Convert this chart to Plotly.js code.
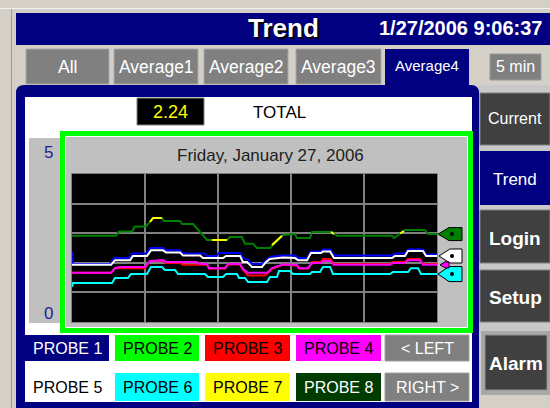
<!DOCTYPE html>
<html>
<head>
<meta charset="utf-8">
<script src="https://cdn.plot.ly/plotly-3.0.1.min.js"></script>
<style>
  html, body { margin: 0; padding: 0; background: #d4d0c8; }
  #chart { width: 550px; height: 408px; }
</style>
</head>
<body>
<div id="chart"></div>
<script>
// ---------------- data (time in seconds over the 5 min window, value 0..5) ----------------
const probeNames = ["PROBE 1","PROBE 2","PROBE 3","PROBE 4","PROBE 5","PROBE 6","PROBE 7","PROBE 8"];
const probeColors = ["#0000ff","#00ff00","#ff0000","#ff00ff","#ffffff","#00ffff","#ffff00","#008000"];

const probe1_t = [0,0.8,31.2,34.5,46.8,49.3,60.8,64.1,74.8,77.3,88.8,91.2,109.3,111.0,118.4,120.8,138.1,140.5,144.7,147.9,156.2,159.5,162.7,173.4,183.3,185.8,193.2,196.4,204.7,206.3,212.1,215.3,263.0,265.5,273.7,276.2,288.5,291.0,300];
const probe1_v = [2.36,1.96,1.96,2.16,2.16,2.31,2.31,2.50,2.50,2.42,2.42,2.31,2.31,2.23,2.23,2.33,2.33,2.16,2.09,1.96,1.96,2.09,2.20,2.25,2.25,2.16,2.16,2.38,2.38,2.45,2.45,2.25,2.25,2.31,2.31,2.45,2.45,2.28,2.28];

const probe3_t = [0,32.1,35.3,60.0,64.1,74.8,77.3,88.8,91.2,111.0,112.6,125.8,128.2,138.1,140.5,144.7,158.6,164.4,173.4,184.9,186.6,194.0,197.3,204.7,206.3,212.1,215.3,261.4,263.8,273.7,276.2,286.0,288.5,300];
const probe3_v = [1.66,1.66,1.82,1.82,2.06,2.06,1.99,1.99,1.93,1.93,1.81,1.81,1.94,1.94,1.76,1.57,1.57,1.79,1.94,1.91,1.81,1.81,2.03,2.03,2.13,2.13,1.96,1.96,2.03,2.03,2.13,2.13,1.96,1.96];

const probe4_t = [0,32.1,35.3,39.5,60.0,64.1,74.8,77.3,102.7,105.2,111.0,112.6,125.8,128.2,138.1,140.5,144.7,160.3,164.4,173.4,184.9,186.6,194.0,197.3,204.7,206.3,212.1,215.3,261.4,263.8,273.7,276.2,286.0,288.5,300];
const probe4_v = [1.66,1.66,1.82,1.86,1.86,2.06,2.09,2.03,2.03,1.96,1.96,1.82,1.82,1.96,1.96,1.79,1.66,1.66,1.82,1.94,1.93,1.82,1.82,1.99,1.99,2.06,2.06,1.93,1.93,1.99,1.99,2.09,2.09,1.93,1.93];

const probe5_t = [0,32.1,35.3,47.7,50.1,61.6,64.9,74.8,77.3,88.8,91.2,105.2,107.7,124.1,126.6,138.1,140.5,143.8,147.9,156.2,159.5,162.7,173.4,183.3,185.8,193.2,196.4,204.7,206.3,212.1,215.3,263.0,265.5,273.7,276.2,288.5,291.0,300];
const probe5_v = [1.93,1.93,2.09,2.09,2.23,2.23,2.42,2.42,2.35,2.35,2.25,2.25,2.16,2.16,2.23,2.23,2.03,2.03,1.86,1.86,2.03,2.13,2.18,2.16,2.09,2.09,2.33,2.33,2.38,2.38,2.16,2.16,2.23,2.23,2.40,2.40,2.23,2.23];

const probe6_t = [0,0.8,32.9,35.3,46.0,48.5,61.6,64.9,74.0,76.4,84.7,87.1,109.3,111.8,124.1,126.6,135.6,137.3,142.2,144.7,160.3,162.7,168.5,170.1,179.2,181.6,195.6,197.3,203.8,206.3,212.1,214.5,261.4,263.8,276.2,278.6,284.4,286.8,300];
const probe6_v = [1.18,1.32,1.32,1.49,1.49,1.62,1.62,1.86,1.86,1.76,1.76,1.62,1.62,1.52,1.52,1.62,1.62,1.49,1.49,1.35,1.35,1.52,1.52,1.72,1.72,1.62,1.62,1.69,1.69,1.86,1.86,1.62,1.62,1.69,1.69,1.82,1.82,1.62,1.62];

// probe 7 mostly lies under probe 8; only the visible pieces are given (null = hidden)
const probe7_t = [64.1,66.6,74.0,74.5,115.0,127.4,128.0,164.4,172.6,173.0,212.9,215.3,216.0,269.6,272.9];
const probe7_v = [3.38,3.51,3.51,null,2.77,2.77,null,2.60,2.91,null,3.04,2.97,null,2.99,3.07];

const probe8_t = [0,36.2,38.6,49.3,51.8,60.8,64.1,66.6,74.0,75.6,88.8,90.4,99.5,107.7,111.0,127.4,129.9,139.7,142.2,148.8,152.1,162.7,173.4,183.3,184.9,195.6,197.3,213.7,217.8,263.0,264.7,273.7,290.1,292.6,300];
const probe8_v = [2.91,2.91,3.06,3.06,3.23,3.23,3.38,3.51,3.51,3.41,3.41,3.31,3.31,2.94,2.77,2.77,2.87,2.87,2.64,2.64,2.50,2.50,2.94,2.97,2.84,2.84,3.04,3.04,2.91,2.91,2.84,3.11,3.11,2.97,2.97];

const totalValue = "2.24";
const totalLabel = "TOTAL";
const dateTitle = "Friday, January 27, 2006";
const headerTitle = "Trend";
const headerTime = "1/27/2006 9:06:37";
const tabLabels = ["All","Average1","Average2","Average3","Average4"];
const spanLabel = "5 min";
const sideButtons = ["Current","Trend","Login","Setup","Alarm"];
const yTop = "5", yBottom = "0";

// ---------------- layout helpers (pixel -> paper) ----------------
const L = 72, T = 174, W = 365, H = 148, FW = 550, FH = 408;
const X = p => (p - L) / W;
const Y = p => (T + H - p) / H;
const PXU = H / 5; // px per value unit
const FONT = "Liberation Sans, Arial, sans-serif";

const shapes = [];
const ann = [];
function box(x0, y0, x1, y1, fill, line, lw, layer) {
  shapes.push({type: "rect", xref: "paper", yref: "paper",
    x0: X(x0), x1: X(x1), y0: Y(y1), y1: Y(y0),
    fillcolor: fill, line: {color: line || fill, width: lw || 0}, layer: layer || "below"});
}
function txt(s, cx, cy, size, color, bold, shadow) {
  const font = {family: FONT, size: size, color: color};
  if (shadow) font.shadow = shadow;
  ann.push({xref: "paper", yref: "paper", x: X(cx), y: Y(cy), text: bold ? "<b>" + s + "</b>" : s,
    showarrow: false, xanchor: "center", yanchor: "middle", font: font});
}

// outer frame lines
box(0, 8, 550, 9, "#f0f0f0");
box(11, 9, 12, 408, "#9a9a9a");
// header bar
box(16, 13, 550, 45, "#000080");
txt(headerTitle, 283, 28, 26, "#ffffff", true, "2px 2px 0px #000000");
txt(headerTime, 460, 28, 20, "#ffffff", true);

// tabs
const tabX = [[26,109],[114,198],[204,288],[296,381],[385,469]];
tabLabels.forEach((lab, i) => {
  const [a, b] = tabX[i];
  if (i === 4) {
    box(a, 49, b, 90, "#000080");
    txt(lab, (a + b) / 2, 66, 15, "#ffffff");
  } else {
    box(a, 49, b, 84, "#808080", "#a8a8a8", 1);
    txt(lab, (a + b) / 2, 67, 17.5, "#ffffff");
  }
});
box(490, 54, 541, 80, "#808080", "#9a9a9a", 1);
txt(spanLabel, 515.5, 67, 16, "#ffffff");

// main navy panel with rounded top corners
shapes.push({type: "path", xref: "paper", yref: "paper", layer: "below",
  path: `M ${X(16)},${Y(408)} L ${X(16)},${Y(93)} Q ${X(16)},${Y(85)} ${X(24)},${Y(85)} L ${X(471)},${Y(85)} Q ${X(479)},${Y(85)} ${X(479)},${Y(93)} L ${X(479)},${Y(408)} Z`,
  fillcolor: "#000080", line: {width: 0}});
box(25, 97, 472, 402, "#ffffff");

// total readout
box(137, 98, 204, 125, "#000000", "#808080", 1);
txt(totalValue, 170.5, 112, 18, "#ffff00");
txt(totalLabel, 279, 112, 17, "#000000");

// y scale label column
box(29, 138, 60, 323, "#c0c0c0");
txt(yTop, 48, 152, 17, "#202090");
txt(yBottom, 48, 313, 17, "#202090");

// green selection frame
box(60, 131, 473, 333, "#00ff00");
box(65, 136, 468, 328, "#ffffff");
box(66, 137, 467, 327, "#c0c0c0");
txt(dateTitle, 270, 155, 17, "#202020");

// plot background
box(72, 174, 437, 322, "#000000");

// probe legend buttons
const colX = [[25,109],[115,199],[205,290],[296,381],[385,469]];
const row1 = [[probeNames[0], "#000080", "#ffffff"], [probeNames[1], "#00ff00", "#000000"], [probeNames[2], "#ff0000", "#000000"], [probeNames[3], "#ff00ff", "#000000"], ["&lt; LEFT", "#808080", "#ffffff"]];
const row2 = [[probeNames[4], "#ffffff", "#000000"], [probeNames[5], "#00ffff", "#000000"], [probeNames[6], "#ffff00", "#000000"], [probeNames[7], "#003c00", "#ffffff"], ["RIGHT &gt;", "#808080", "#ffffff"]];
row1.forEach((r, i) => { const [a, b] = colX[i]; box(a, 335, b, 361, r[1], i === 4 ? "#a0a0a0" : r[1], i === 4 ? 1 : 0); txt(r[0], (a + b) / 2, 348.5, 16, r[2]); });
row2.forEach((r, i) => { const [a, b] = colX[i]; box(a, 373, b, 401, r[1], i === 4 ? "#a0a0a0" : r[1], i === 4 ? 1 : 0); txt(r[0], (a + b) / 2, 387, 16, r[2]); });

// right side buttons
box(479, 85, 550, 333, "#c8c8c8");
box(480, 93, 550, 145, "#404040", "#808080", 1);
txt(sideButtons[0], 515, 118, 16, "#ffffff");
box(480, 151, 550, 205, "#000080");
txt(sideButtons[1], 515, 179, 17, "#ffffff");
box(480, 210, 550, 263, "#404040", "#808080", 1);
txt(sideButtons[2], 515, 238, 19, "#ffffff", true);
box(480, 270, 550, 322, "#404040", "#808080", 1);
txt(sideButtons[3], 515, 297, 19, "#ffffff", true);
box(481, 331, 550, 395, "#a8a8a8");
box(485, 335, 547, 390, "#404040", "#909090", 1);
txt(sideButtons[4], 516, 363, 19, "#ffffff", true);

// ---------------- traces ----------------
function line(t, v, i) {
  return {type: "scatter", mode: "lines", x: t, y: v, name: probeNames[i],
    line: {color: probeColors[i], width: 2}, hoverinfo: "skip", connectgaps: false};
}
const traces = [
  line(probe1_t, probe1_v, 0),
  line(probe3_t, probe3_v, 2),
  line(probe4_t, probe4_v, 3),
  line(probe5_t, probe5_v, 4),
  line(probe6_t, probe6_v, 5),
  line(probe8_t, probe8_v, 7),
  line(probe7_t, probe7_v, 6)
];

// end-value tags at the right edge, positioned from each series' last value
function tag(v, fill, half, tipPx, bodyPx, rightPx, dot) {
  const hh = half / PXU;
  shapes.push({type: "path", xref: "paper", yref: "y", layer: "above",
    path: `M ${X(tipPx)},${v} L ${X(bodyPx)},${v + hh} L ${X(rightPx)},${v + hh} L ${X(rightPx)},${v - hh} L ${X(bodyPx)},${v - hh} Z`,
    fillcolor: fill, line: {color: "#000000", width: 1}});
  if (dot) {
    const r = 2 / PXU;
    shapes.push({type: "circle", xref: "paper", yref: "y", layer: "above",
      x0: X(450), x1: X(454), y0: v - r, y1: v + r, fillcolor: "#000000", line: {width: 0}});
  }
}
const last = a => a[a.length - 1];
tag(last(probe8_v), probeColors[7], 6.5, 438, 449, 462, true);
tag(last(probe5_v), probeColors[4], 7, 439, 450, 462, true);
tag(last(probe6_v), probeColors[5], 7.5, 438, 449, 462, true);
tag(last(probe4_v), probeColors[3], 3, 440, 445, 449, false);

const layout = {
  width: FW, height: FH,
  margin: {l: L, r: FW - L - W, t: T, b: FH - T - H, pad: 0},
  paper_bgcolor: "#d4d0c8", plot_bgcolor: "#000000",
  showlegend: false, hovermode: false,
  xaxis: {range: [0, 300], tick0: 0, dtick: 60, showgrid: true, gridcolor: "#808080", gridwidth: 2,
    showticklabels: false, ticks: "", zeroline: false, showline: true, linecolor: "#808080", linewidth: 1, mirror: true, fixedrange: true},
  yaxis: {range: [0, 5], tick0: 0, dtick: 1, showgrid: true, gridcolor: "#808080", gridwidth: 2,
    showticklabels: false, ticks: "", zeroline: false, showline: true, linecolor: "#808080", linewidth: 1, mirror: true, fixedrange: true},
  shapes: shapes,
  annotations: ann
};
Plotly.newPlot("chart", traces, layout, {displayModeBar: false, staticPlot: true});
</script>
</body>
</html>
